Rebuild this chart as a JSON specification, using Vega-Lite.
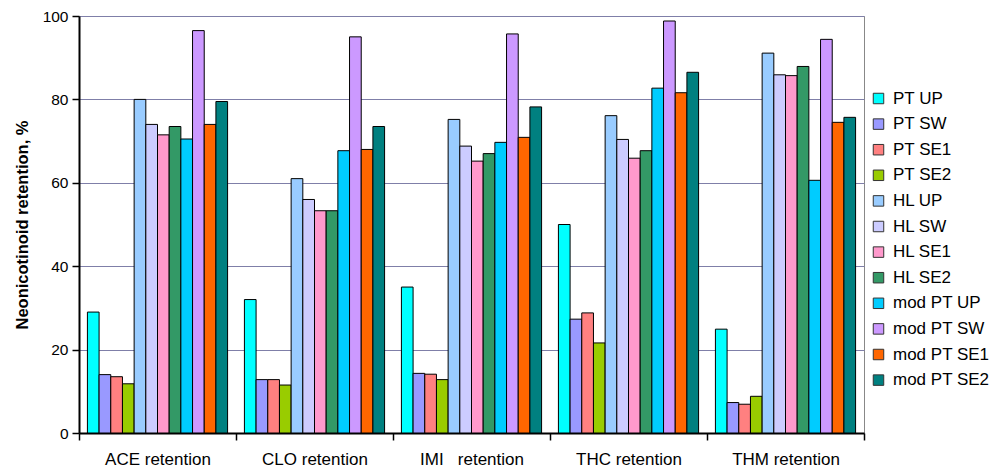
{
  "$schema": "https://vega.github.io/schema/vega-lite/v6.json",
  "autosize": "none",
  "width": 785,
  "height": 417,
  "padding": {"left": 79, "top": 16, "right": 132, "bottom": 43},
  "background": "white",
  "config": {
    "font": "Liberation Sans",
    "view": {"stroke": "#888888", "strokeWidth": 1}
  },
  "data": {"values": [
    {"g": "ACE retention", "s": "PT UP", "v": 29},
    {"g": "ACE retention", "s": "PT SW", "v": 14},
    {"g": "ACE retention", "s": "PT SE1", "v": 13.5},
    {"g": "ACE retention", "s": "PT SE2", "v": 11.8},
    {"g": "ACE retention", "s": "HL UP", "v": 80},
    {"g": "ACE retention", "s": "HL SW", "v": 74},
    {"g": "ACE retention", "s": "HL SE1", "v": 71.5},
    {"g": "ACE retention", "s": "HL SE2", "v": 73.5},
    {"g": "ACE retention", "s": "mod PT UP", "v": 70.5},
    {"g": "ACE retention", "s": "mod PT SW", "v": 96.5},
    {"g": "ACE retention", "s": "mod PT SE1", "v": 74},
    {"g": "ACE retention", "s": "mod PT SE2", "v": 79.5},
    {"g": "CLO retention", "s": "PT UP", "v": 32},
    {"g": "CLO retention", "s": "PT SW", "v": 12.8},
    {"g": "CLO retention", "s": "PT SE1", "v": 12.8},
    {"g": "CLO retention", "s": "PT SE2", "v": 11.5},
    {"g": "CLO retention", "s": "HL UP", "v": 61},
    {"g": "CLO retention", "s": "HL SW", "v": 56},
    {"g": "CLO retention", "s": "HL SE1", "v": 53.3},
    {"g": "CLO retention", "s": "HL SE2", "v": 53.3},
    {"g": "CLO retention", "s": "mod PT UP", "v": 67.7},
    {"g": "CLO retention", "s": "mod PT SW", "v": 95},
    {"g": "CLO retention", "s": "mod PT SE1", "v": 68},
    {"g": "CLO retention", "s": "mod PT SE2", "v": 73.5},
    {"g": "IMI   retention", "s": "PT UP", "v": 35},
    {"g": "IMI   retention", "s": "PT SW", "v": 14.3},
    {"g": "IMI   retention", "s": "PT SE1", "v": 14.1},
    {"g": "IMI   retention", "s": "PT SE2", "v": 12.8},
    {"g": "IMI   retention", "s": "HL UP", "v": 75.2},
    {"g": "IMI   retention", "s": "HL SW", "v": 68.8},
    {"g": "IMI   retention", "s": "HL SE1", "v": 65.2},
    {"g": "IMI   retention", "s": "HL SE2", "v": 67},
    {"g": "IMI   retention", "s": "mod PT UP", "v": 69.7},
    {"g": "IMI   retention", "s": "mod PT SW", "v": 95.7},
    {"g": "IMI   retention", "s": "mod PT SE1", "v": 70.9},
    {"g": "IMI   retention", "s": "mod PT SE2", "v": 78.2},
    {"g": "THC retention", "s": "PT UP", "v": 50},
    {"g": "THC retention", "s": "PT SW", "v": 27.3},
    {"g": "THC retention", "s": "PT SE1", "v": 28.8},
    {"g": "THC retention", "s": "PT SE2", "v": 21.6},
    {"g": "THC retention", "s": "HL UP", "v": 76.1},
    {"g": "THC retention", "s": "HL SW", "v": 70.4},
    {"g": "THC retention", "s": "HL SE1", "v": 65.9},
    {"g": "THC retention", "s": "HL SE2", "v": 67.7},
    {"g": "THC retention", "s": "mod PT UP", "v": 82.7},
    {"g": "THC retention", "s": "mod PT SW", "v": 98.8},
    {"g": "THC retention", "s": "mod PT SE1", "v": 81.6},
    {"g": "THC retention", "s": "mod PT SE2", "v": 86.5},
    {"g": "THM retention", "s": "PT UP", "v": 24.9},
    {"g": "THM retention", "s": "PT SW", "v": 7.3},
    {"g": "THM retention", "s": "PT SE1", "v": 6.9},
    {"g": "THM retention", "s": "PT SE2", "v": 8.8},
    {"g": "THM retention", "s": "HL UP", "v": 91.1},
    {"g": "THM retention", "s": "HL SW", "v": 85.9},
    {"g": "THM retention", "s": "HL SE1", "v": 85.7},
    {"g": "THM retention", "s": "HL SE2", "v": 87.9},
    {"g": "THM retention", "s": "mod PT UP", "v": 60.6},
    {"g": "THM retention", "s": "mod PT SW", "v": 94.4},
    {"g": "THM retention", "s": "mod PT SE1", "v": 74.5},
    {"g": "THM retention", "s": "mod PT SE2", "v": 75.7}
  ]},
  "mark": {"type": "bar", "stroke": "#000000", "strokeWidth": 1},
  "encoding": {
    "x": {
      "field": "g", "type": "nominal", "sort": null,
      "scale": {"paddingInner": 0, "paddingOuter": 0},
      "axis": {
        "title": null, "labelAngle": 0, "labelFontSize": 17, "labelColor": "#000000",
        "labelPadding": 11, "tickBand": "extent", "tickColor": "#000000", "tickSize": 7,
        "tickWidth": 1.5, "domainColor": "#000000", "domainWidth": 2,
        "labelExpr": "replace(datum.label, '   ', '\u00a0\u00a0\u00a0')"
      }
    },
    "xOffset": {
      "field": "s", "type": "nominal", "sort": null,
      "scale": {"paddingInner": 0, "paddingOuter": 0.72}
    },
    "y": {
      "field": "v", "type": "quantitative",
      "scale": {"domain": [0, 100], "nice": false},
      "axis": {
        "title": "Neonicotinoid retention, %", "titleFontSize": 16.5, "titleFontWeight": "bold",
        "titleColor": "#000000", "titlePadding": 12,
        "values": [0, 20, 40, 60, 80, 100], "labelFontSize": 15.5, "labelColor": "#000000",
        "labelPadding": 4, "tickColor": "#000000", "tickSize": 7, "tickWidth": 1.5,
        "domainColor": "#000000", "domainWidth": 2,
        "grid": true, "gridColor": "#7f7fa8", "gridWidth": 1
      }
    },
    "color": {
      "field": "s", "type": "nominal", "sort": null,
      "scale": {
        "domain": ["PT UP", "PT SW", "PT SE1", "PT SE2", "HL UP", "HL SW", "HL SE1", "HL SE2", "mod PT UP", "mod PT SW", "mod PT SE1", "mod PT SE2"],
        "range": ["#00FFFF", "#9999FF", "#FF8080", "#99CC00", "#99CCFF", "#CCCCFF", "#FF99CC", "#339966", "#00CCFF", "#CC99FF", "#FF6600", "#008080"]
      },
      "legend": {
        "title": null, "orient": "none", "legendX": 791, "legendY": 74,
        "symbolType": "square", "symbolSize": 110, "symbolStrokeColor": "#333333",
        "symbolStrokeWidth": 1, "labelFontSize": 17, "labelColor": "#000000",
        "rowPadding": 7.6, "labelOffset": 6
      }
    }
  }
}
